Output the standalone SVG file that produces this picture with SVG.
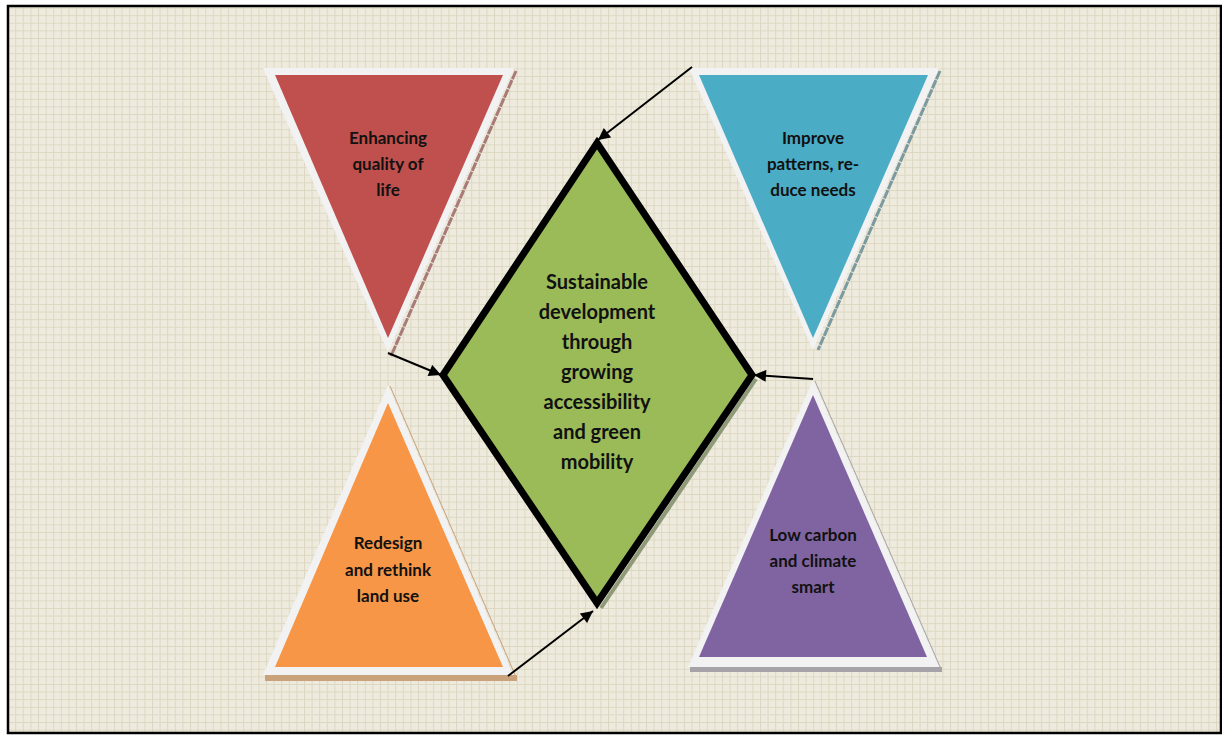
<svg xmlns="http://www.w3.org/2000/svg" width="1222" height="735" viewBox="0 0 1222 735">
<defs>
<pattern id="grid" width="7.6" height="7.6" patternUnits="userSpaceOnUse">
<rect width="7.6" height="7.6" fill="#EEEBDE"/>
<path d="M0 0.5H7.6M0.5 0V7.6" stroke="#DCD8C2" stroke-width="1"/>
</pattern>
<marker id="ah" viewBox="0 0 10 10" refX="10" refY="5" markerWidth="14" markerHeight="12" markerUnits="userSpaceOnUse" orient="auto">
<path d="M0 0L10 5L0 10Z" fill="#000"/>
</marker>
<style>
.lbl{font-family:Lato,"Open Sans","Liberation Sans",sans-serif;font-weight:bold;fill:#111;text-anchor:middle}
.small{font-size:17px}
.big{font-size:20px}
.rim{fill:#F2F2F2}
.con{stroke:#000;stroke-width:2;fill:none;marker-end:url(#ah)}
</style>
</defs>
<rect x="0" y="0" width="1222" height="735" fill="#fff"/>
<rect x="8" y="6" width="1213" height="727" fill="url(#grid)" stroke="#000" stroke-width="2.5"/>

<g id="node-quality">
<path d="M516 71L391 356" stroke="#A87A78" stroke-width="3" stroke-dasharray="9 1"/>
<polygon class="rim" points="263,68 514,68 388,352"/>
<polygon points="275,75 503,75 388,338" fill="#C0504D"/>
<text class="lbl small" x="388" y="144">Enhancing</text>
<text class="lbl small" x="388" y="170">quality of</text>
<text class="lbl small" x="388" y="196">life</text>
</g>

<g id="node-patterns">
<path d="M940 71L818 350" stroke="#7A9AA0" stroke-width="3" stroke-dasharray="9 1"/>
<polygon class="rim" points="689,68 939,68 813,350"/>
<polygon points="699,75 928,75 813,338" fill="#4BACC6"/>
<text class="lbl small" x="813" y="144">Improve</text>
<text class="lbl small" x="813" y="170">patterns, re-</text>
<text class="lbl small" x="813" y="196">duce needs</text>
</g>

<g id="node-landuse">
<rect x="265" y="675" width="252" height="6" fill="#C9A27C"/>
<path d="M390 386L516 677" stroke="#C9A27C" stroke-width="1"/>
<polygon class="rim" points="388,385 513,675 263,675"/>
<polygon points="388,403 503,667 275,667" fill="#F79646"/>
<text class="lbl small" x="388" y="549">Redesign</text>
<text class="lbl small" x="388" y="576">and rethink</text>
<text class="lbl small" x="388" y="602">land use</text>
</g>

<g id="node-carbon">
<rect x="690" y="667" width="252" height="5" fill="#A6A3A8"/>
<path d="M815 381L941 669" stroke="#A6A3A8" stroke-width="1"/>
<polygon class="rim" points="813,380 939,667 688,667"/>
<polygon points="813,395 927,657 699,657" fill="#8064A2"/>
<text class="lbl small" x="813" y="541">Low carbon</text>
<text class="lbl small" x="813" y="567">and climate</text>
<text class="lbl small" x="813" y="593">smart</text>
</g>

<g id="node-center">
<path d="M756 379L601 608" stroke="#8E9A78" stroke-width="4"/>
<polygon points="597,143 752,375 597,603 443,375" fill="#9BBB59" stroke="#000" stroke-width="7" stroke-linejoin="miter"/>
<text class="lbl big" x="597" y="289">Sustainable</text>
<text class="lbl big" x="597" y="319">development</text>
<text class="lbl big" x="597" y="349">through</text>
<text class="lbl big" x="597" y="379">growing</text>
<text class="lbl big" x="597" y="409">accessibility</text>
<text class="lbl big" x="597" y="439">and green</text>
<text class="lbl big" x="597" y="469">mobility</text>
</g>

<g id="connectors">
<line class="con" x1="692" y1="67" x2="598" y2="140"/>
<line class="con" x1="388" y1="353" x2="441" y2="375"/>
<line class="con" x1="813" y1="379" x2="754" y2="375"/>
<line class="con" x1="508" y1="676" x2="593" y2="611"/>
</g>
</svg>
